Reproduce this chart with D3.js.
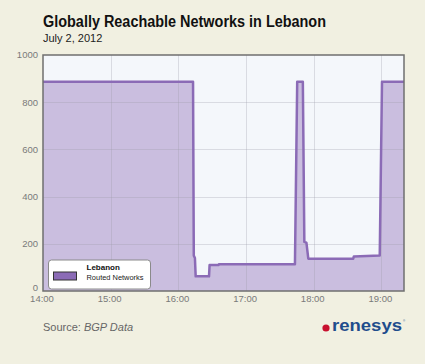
<!DOCTYPE html>
<html>
<head>
<meta charset="utf-8">
<script src="https://cdn.jsdelivr.net/npm/d3@7"></script>
<style>
  body { margin: 0; background: #f1f0e1; }
  text { font-family: "Liberation Sans", Arial, sans-serif; }
</style>
</head>
<body>
<div id="container"></div>
<script>
/* CONSTANTS AND GLOBALS */
const width = 425;
const height = 364;

const margin = { top: 55, right: 21, bottom: 73, left: 43 };

/* DATA */
const times = ["14:00:00", "16:13:00", "16:13:40", "16:14:40", "16:15:20", "16:27:10", "16:27:40",
  "16:35:30", "16:35:50", "17:43:20", "17:45:20", "17:50:20", "17:51:40", "17:53:30", "17:55:10",
  "18:35:00", "18:35:30", "18:58:30", "19:00:30", "19:20:00"];
const routed = [887, 887, 150, 140, 62, 62, 110, 110, 113, 113, 887, 887, 208, 205, 137,
  137, 146, 150, 887, 887];
const yTicks = [0, 200, 400, 600, 800, 1000];
const xTicks = ["14:00", "15:00", "16:00", "17:00", "18:00", "19:00"];

const parseTime = d3.timeParse("%H:%M:%S");
const parseHour = d3.timeParse("%H:%M");
const data = times.map((t, i) => ({ date: parseTime(t), value: routed[i] }));

/* SCALES */
const xScale = d3.scaleTime()
  .domain([parseTime("14:00:00"), parseTime("19:20:00")])
  .range([margin.left, width - margin.right]);

const yScale = d3.scaleLinear()
  .domain([0, 1000])
  .range([height - margin.bottom, margin.top]);

/* SVG */
const svg = d3.select("#container")
  .append("svg")
  .attr("width", width)
  .attr("height", height);

svg.append("rect")
  .attr("width", width).attr("height", height)
  .attr("fill", "#f1f0e1");

// titles
svg.append("text")
  .attr("x", 43).attr("y", 27)
  .attr("font-size", 16).attr("font-weight", "bold")
  .attr("fill", "#111")
  .attr("textLength", 283).attr("lengthAdjust", "spacingAndGlyphs")
  .text("Globally Reachable Networks in Lebanon");

svg.append("text")
  .attr("x", 43).attr("y", 42)
  .attr("font-size", 11).attr("fill", "#222")
  .text("July 2, 2012");

// plot background
svg.append("rect")
  .attr("x", margin.left).attr("y", margin.top)
  .attr("width", width - margin.left - margin.right)
  .attr("height", height - margin.top - margin.bottom)
  .attr("fill", "#f4f7fb");

// AREA + LINE
const areaGen = d3.area()
  .x(d => xScale(d.date))
  .y0(yScale(0))
  .y1(d => yScale(d.value));

const lineGen = d3.line()
  .x(d => xScale(d.date))
  .y(d => yScale(d.value));

svg.append("path")
  .datum(data)
  .attr("fill", "#cabedf")
  .attr("d", areaGen);

// GRID
const grid = svg.append("g").attr("stroke", "#9a9aa8").attr("stroke-opacity", 0.3).attr("stroke-width", 1);
grid.selectAll(".hgrid")
  .data(yTicks.slice(1, -1))
  .join("line")
  .attr("x1", margin.left).attr("x2", width - margin.right)
  .attr("y1", d => Math.round(yScale(d)) + 0.5).attr("y2", d => Math.round(yScale(d)) + 0.5);
grid.selectAll(".vgrid")
  .data(xTicks.slice(1))
  .join("line")
  .attr("x1", d => Math.round(xScale(parseHour(d))) + 0.5)
  .attr("x2", d => Math.round(xScale(parseHour(d))) + 0.5)
  .attr("y1", margin.top).attr("y2", height - margin.bottom);

svg.append("path")
  .datum(data)
  .attr("fill", "none")
  .attr("stroke", "#8b6bb6")
  .attr("stroke-width", 2.5)
  .attr("stroke-linejoin", "round")
  .attr("d", lineGen);

// frame
svg.append("rect")
  .attr("x", margin.left).attr("y", margin.top)
  .attr("width", width - margin.left - margin.right)
  .attr("height", height - margin.top - margin.bottom)
  .attr("fill", "none")
  .attr("stroke", "#6f6f6f")
  .attr("stroke-width", 1.5);

// AXES LABELS
svg.append("g")
  .selectAll("text")
  .data(yTicks)
  .join("text")
  .attr("x", 38)
  .attr("y", d => d === 0 ? yScale(d) - 3 : yScale(d))
  .attr("dy", "0.35em")
  .attr("text-anchor", "end")
  .attr("font-size", 9.5)
  .attr("fill", "#7a7a7a")
  .text(d => d);

svg.append("g")
  .selectAll("text")
  .data(xTicks)
  .join("text")
  .attr("x", d => xScale(parseHour(d)) - 1)
  .attr("y", height - margin.bottom + 8)
  .attr("dy", "0.35em")
  .attr("text-anchor", "middle")
  .attr("font-size", 9.5)
  .attr("fill", "#7a7a7a")
  .text(d => d);

// LEGEND
const legend = svg.append("g").attr("transform", "translate(48.5, 260)");
legend.append("rect")
  .attr("width", 102).attr("height", 29).attr("rx", 3)
  .attr("fill", "#ffffff").attr("stroke", "#8a8a8a").attr("stroke-width", 1);
legend.append("rect")
  .attr("x", 5).attr("y", 12).attr("width", 23).attr("height", 8)
  .attr("fill", "#8b6bb6").attr("stroke", "#333").attr("stroke-width", 1);
legend.append("text")
  .attr("x", 38).attr("y", 9.5)
  .attr("font-size", 8).attr("font-weight", "bold").attr("fill", "#111")
  .text("Lebanon");
legend.append("text")
  .attr("x", 38).attr("y", 20)
  .attr("font-size", 8).attr("fill", "#222")
  .attr("textLength", 57).attr("lengthAdjust", "spacingAndGlyphs")
  .text("Routed Networks");

// SOURCE
const src = svg.append("text")
  .attr("x", 43).attr("y", 331)
  .attr("font-size", 11).attr("fill", "#666");
src.append("tspan").text("Source:  ");
src.append("tspan").attr("font-style", "italic").text("BGP Data");

// LOGO
svg.append("circle")
  .attr("cx", 326).attr("cy", 328).attr("r", 3.6)
  .attr("fill", "#c8102e");
svg.append("text")
  .attr("x", 332).attr("y", 331)
  .attr("font-size", 17).attr("font-weight", "bold")
  .attr("fill", "#1f4d8c")
  .attr("textLength", 70).attr("lengthAdjust", "spacingAndGlyphs")
  .text("renesys");
svg.append("text")
  .attr("x", 403).attr("y", 322)
  .attr("font-size", 3).attr("fill", "#1f4d8c")
  .text("®");
</script>
</body>
</html>
